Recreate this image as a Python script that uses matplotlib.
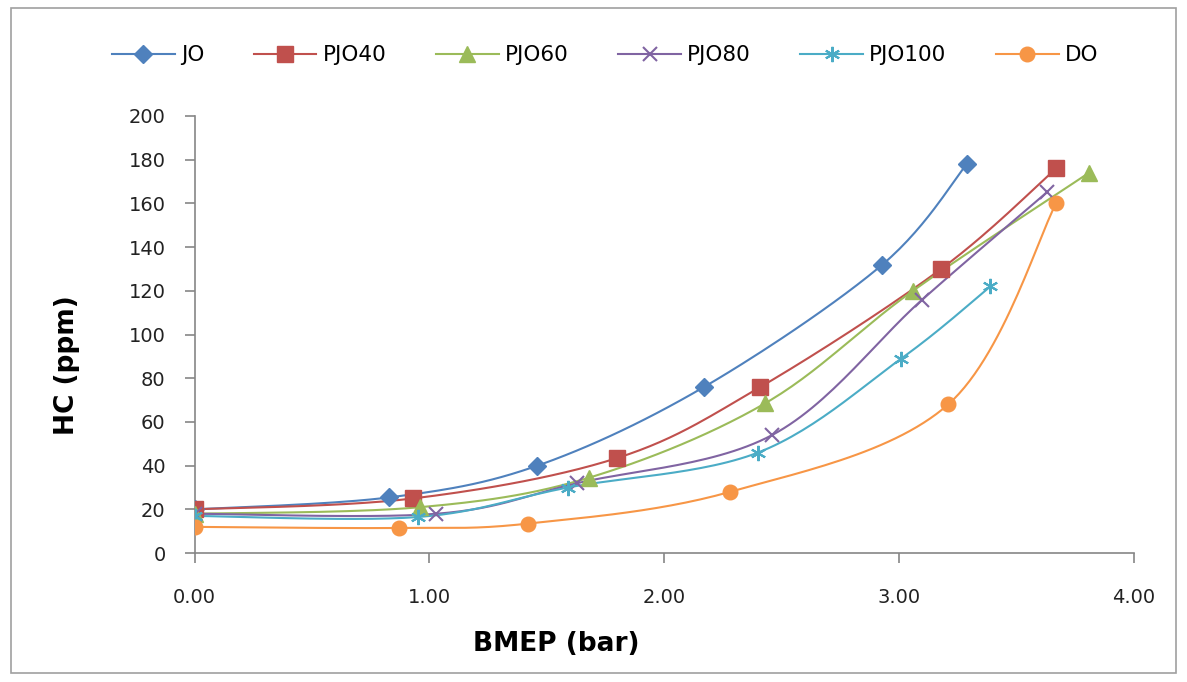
import numpy as np
import matplotlib
matplotlib.use('Agg')
import matplotlib.pyplot as plt
from matplotlib.patches import Rectangle

plt.rcParams['font.family'] = ['DejaVu Sans']

# Data: BMEP (bar) vs HC (ppm)
jo_x = [0.00, 0.83, 1.46, 2.17, 2.93, 3.29]
jo_y = [20, 25.5, 40, 76, 132, 178]
pjo40_x = [0.00, 0.93, 1.80, 2.41, 3.18, 3.67]
pjo40_y = [20, 25, 43.5, 76, 130, 176]
pjo60_x = [0.00, 0.96, 1.68, 2.43, 3.06, 3.81]
pjo60_y = [18, 21, 34.5, 68.5, 120, 174]
pjo80_x = [0.00, 1.03, 1.63, 2.46, 3.10, 3.63]
pjo80_y = [18, 18, 32, 54, 116, 165]
pjo100_x = [0.00, 0.95, 1.59, 2.40, 3.01, 3.39]
pjo100_y = [17, 16.5, 30, 46, 89, 122]
do_x = [0.00, 0.87, 1.42, 2.28, 3.21, 3.67]
do_y = [12, 11.5, 13.5, 28, 68, 160]

series = [
    ('JO', jo_x, jo_y, '#4F81BD', 'D', 9),
    ('PJO40', pjo40_x, pjo40_y, '#C0504D', 's', 11),
    ('PJO60', pjo60_x, pjo60_y, '#9BBB59', '^', 11),
    ('PJO80', pjo80_x, pjo80_y, '#8064A2', 'x', 10),
    ('PJO100', pjo100_x, pjo100_y, '#4BACC6', (6, 2, 0), 11),
    ('DO', do_x, do_y, '#F79646', 'o', 10.5),
]


def smooth(x, y, n=30):
    # Excel-like smoothed line: cubic Bezier between points
    x = np.asarray(x, float)
    y = np.asarray(y, float)
    px = np.concatenate([[x[0]], x, [x[-1]]])
    py = np.concatenate([[y[0]], y, [y[-1]]])
    t = np.linspace(0, 1, n)
    xs, ys = [], []
    for i in range(1, len(px) - 2):
        p0 = np.array([px[i], py[i]])
        p3 = np.array([px[i + 1], py[i + 1]])
        c1 = p0 + (p3 - np.array([px[i - 1], py[i - 1]])) / 6
        c2 = p3 - (np.array([px[i + 2], py[i + 2]]) - p0) / 6
        b = ((1 - t) ** 3)[:, None] * p0 + (3 * (1 - t) ** 2 * t)[:, None] * c1 \
            + (3 * (1 - t) * t ** 2)[:, None] * c2 + (t ** 3)[:, None] * p3
        xs.extend(b[:, 0])
        ys.extend(b[:, 1])
    return xs, ys


fig = plt.figure(figsize=(11.87, 6.82), dpi=100)
ax = fig.add_axes([0.164, 0.189, 0.791, 0.641])

for name, x, y, c, m, ms in series:
    mew = 1.5 if m in ('x', (6, 2, 0)) else 1
    sx, sy = smooth(x, y)
    ax.plot(sx, sy, color=c, lw=1.5, zorder=2)
    ax.plot(x, y, linestyle='none', marker=m, color=c, markersize=ms,
            markeredgewidth=mew, zorder=3)
    ax.plot([], [], color=c, lw=1.5, marker=m, markersize=ms,
            markeredgewidth=mew, label=name)

ax.set_xlim(0, 4)
ax.set_ylim(0, 200)
ax.set_xticks([0, 1, 2, 3, 4])
ax.set_xticklabels(['0.00', '1.00', '2.00', '3.00', '4.00'])
ax.set_yticks(range(0, 201, 20))
for s in ['top', 'right']:
    ax.spines[s].set_visible(False)
for s in ['left', 'bottom']:
    ax.spines[s].set_color('#868686')
    ax.spines[s].set_linewidth(1.2)
ax.tick_params(direction='out', color='#868686', length=7, labelsize=14,
               width=1.2, labelcolor='#222222')
ax.tick_params(axis='x', pad=18)
ax.tick_params(axis='y', pad=14)
ax.set_xlabel('BMEP (bar)', fontsize=19, fontweight='bold')
ax.set_ylabel('HC (ppm)', fontsize=19, fontweight='bold')
ax.xaxis.set_label_coords(0.385, -0.178)
ax.yaxis.set_label_coords(-0.122, 0.43)

fig.legend(loc='center', bbox_to_anchor=(0.51, 0.919), ncol=6, frameon=False,
           fontsize=15.5, handlelength=2.9, columnspacing=2.3, handletextpad=0.3)

fig.patches.append(Rectangle((0.009, 0.013), 0.982, 0.975, transform=fig.transFigure,
                             fill=False, edgecolor='#A0A0A0', lw=1.2))

plt.savefig('out.png', dpi=100)
